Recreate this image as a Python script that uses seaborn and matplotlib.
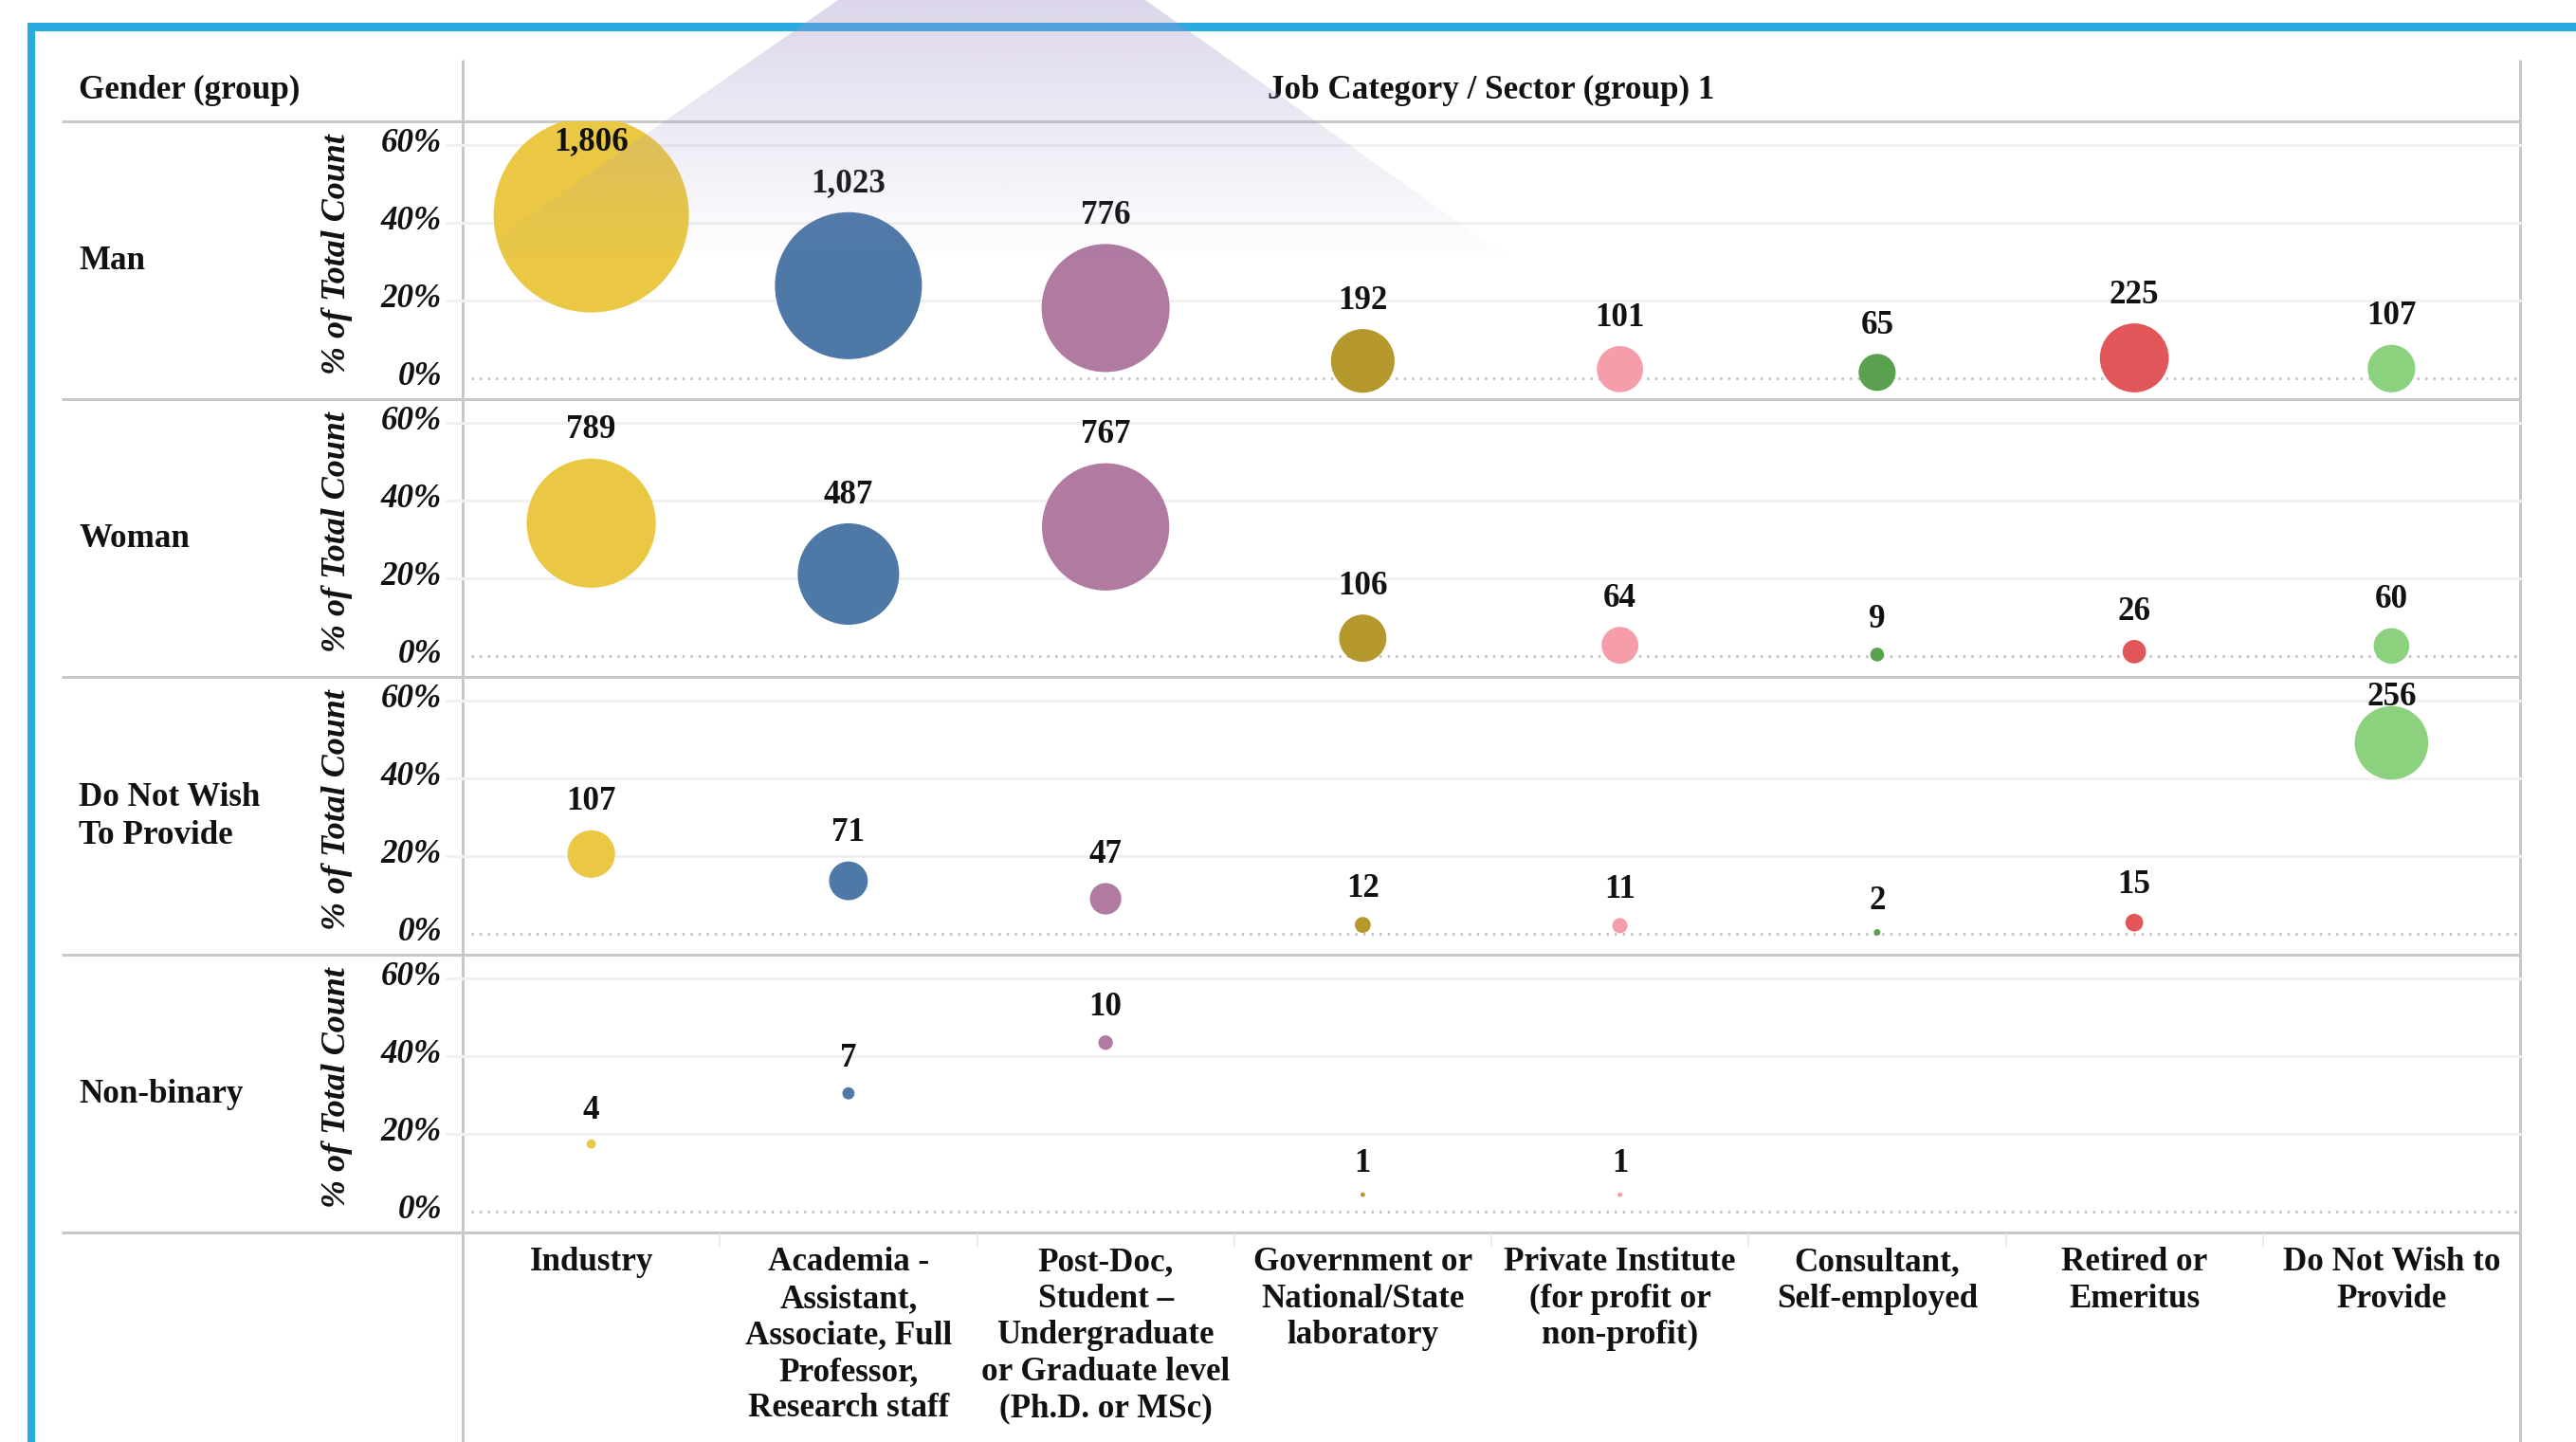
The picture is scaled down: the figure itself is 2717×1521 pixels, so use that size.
import numpy as np
import pandas as pd
import matplotlib
matplotlib.use("Agg")
import matplotlib.pyplot as plt
import matplotlib.transforms as mtransforms
import seaborn as sns
from matplotlib.patches import Polygon, Rectangle

# ---------------- data ----------------
categories = [
    "Industry",
    "Academia -\nAssistant,\nAssociate, Full\nProfessor,\nResearch staff",
    "Post-Doc,\nStudent \u2013\nUndergraduate\nor Graduate level\n(Ph.D. or MSc)",
    "Government or\nNational/State\nlaboratory",
    "Private Institute\n(for profit or\nnon-profit)",
    "Consultant,\nSelf-employed",
    "Retired or\nEmeritus",
    "Do Not Wish to\nProvide",
]
genders = ["Man", "Woman", "Do Not Wish\nTo Provide", "Non-binary"]

man_counts = [1806, 1023, 776, 192, 101, 65, 225, 107]
woman_counts = [789, 487, 767, 106, 64, 9, 26, 60]
dnw_counts = [107, 71, 47, 12, 11, 2, 15, 256]
nonbinary_counts = [4, 7, 10, 1, 1, None, None, None]

# % of total count (per gender row)
man_pct = [42.05, 23.82, 18.07, 4.47, 2.35, 1.51, 5.24, 2.49]
woman_pct = [34.19, 21.10, 33.23, 4.59, 2.77, 0.39, 1.13, 2.60]
dnw_pct = [20.54, 13.63, 9.02, 2.30, 2.11, 0.38, 2.88, 49.14]
nonbinary_pct = [17.39, 30.43, 43.48, 4.35, 4.35, None, None, None]

y_ticks = [0, 20, 40, 60]
y_tick_labels = ["0%", "20%", "40%", "60%"]

colors = ["#EAC844", "#4E79A7", "#B07AA1", "#B6992D",
          "#F59DA8", "#59A14F", "#E15759", "#8CD17D"]

rows = [
    (genders[0], man_counts, man_pct),
    (genders[1], woman_counts, woman_pct),
    (genders[2], dnw_counts, dnw_pct),
    (genders[3], nonbinary_counts, nonbinary_pct),
]

# ---------------- style ----------------
sns.set_style("white")
plt.rcParams["font.family"] = ["Liberation Serif", "DejaVu Serif"]

W, H = 2717, 1521
DPI = 100
PT = 72.0 / DPI
FS = 35 * PT
TXT = "#111111"

fig = plt.figure(figsize=(W / DPI, H / DPI), dpi=DPI)
fig.patch.set_facecolor("white")

# background frame / table lines in pixel coordinates
bg = fig.add_axes([0, 0, 1, 1], zorder=0)
bg.set_xlim(0, W)
bg.set_ylim(H, 0)
bg.axis("off")
line_c = "#C8C8C8"
lw = 3 * PT
LEFT, RIGHT = 488, 2658
bg.plot([LEFT, LEFT], [63, H], color=line_c, lw=lw, solid_capstyle="butt")
bg.plot([RIGHT, RIGHT], [63, H], color=line_c, lw=lw, solid_capstyle="butt")
for yb in [128, 421, 714, 1007, 1300]:
    bg.plot([65, RIGHT], [yb, yb], color=line_c, lw=lw, solid_capstyle="butt")
col_w = (RIGHT - LEFT) / 8
for k in range(1, 8):
    bg.plot([LEFT + col_w * k] * 2, [1302, 1315], color="#ECECEC", lw=2 * PT)
bg.add_patch(Rectangle((29, 24), W - 29, 9, color="#29ABE2", lw=0))
bg.add_patch(Rectangle((29, 24), 8, H - 24, color="#29ABE2", lw=0))

# headers
fig.text(83 / W, 1 - 95 / H, "Gender (group)", fontsize=FS, fontweight="bold",
         color=TXT, ha="left", va="center")
fig.text((LEFT + RIGHT) / 2 / W, 1 - 95 / H, "Job Category / Sector (group) 1",
         fontsize=FS, fontweight="bold", color=TXT, ha="center", va="center")

ROW_H = 293
ymin = -22 / 246 * 60
ymax = 60 + 25 / 246 * 60
upp = (ymax - ymin) / ROW_H
palette = dict(zip(categories, colors))
shift_up = mtransforms.ScaledTranslation(0, 1.5 / DPI, fig.dpi_scale_trans)

for i, (gname, counts, pcts) in enumerate(rows):
    top = 128 + ROW_H * i
    ax = fig.add_axes([LEFT / W, 1 - (top + ROW_H) / H, (RIGHT - LEFT) / W, ROW_H / H],
                      zorder=2)
    ax.patch.set_alpha(0)
    df = pd.DataFrame({
        "pos": list(range(len(categories))),
        "cat": categories,
        "count": counts,
        "pct": pcts,
    }).dropna()
    df["count"] = df["count"].astype(float)
    df["pct"] = df["pct"].astype(float)

    # gridlines
    for v in y_ticks[1:]:
        ax.plot([-17 / (RIGHT - LEFT), 1], [v, v], transform=ax.get_yaxis_transform(),
                color="#F1F1F1", lw=3 * PT, clip_on=False, zorder=0.5)
    ax.plot([9 / (RIGHT - LEFT), 1], [0, 0], transform=ax.get_yaxis_transform(),
            color="#C4C4C4", lw=3 * PT, linestyle=(0, (0.8, 2.05)),
            clip_on=False, zorder=0.6)

    sns.scatterplot(data=df, x="pos", y="pct", hue="cat", palette=palette,
                    size="count", sizes=(0, 22000), size_norm=(0, 1806),
                    legend=False, linewidth=0, edgecolor="none", alpha=1,
                    ax=ax, zorder=3)

    # value labels above bubbles
    for _, r in df.iterrows():
        r_px = 103 * np.sqrt(r["count"] / 1806.0)
        y_lab = r["pct"] + (r_px + 30) * upp
        y_lab = min(y_lab, ymax - 22 * upp)
        ax.text(r["pos"], y_lab, f"{int(r['count']):,}", fontsize=FS,
                fontweight="bold", color=TXT, ha="center", va="center", zorder=4)

    ax.set_xlim(-0.5, 7.5)
    ax.set_ylim(ymin, ymax)
    for s in ax.spines.values():
        s.set_visible(False)
    ax.set_yticks(y_ticks)
    ax.set_yticklabels([])
    ax.tick_params(axis="y", length=0)
    for v, t in zip(y_ticks, y_tick_labels):
        ax.text(-(LEFT - 466) / (RIGHT - LEFT), v, t,
                transform=ax.get_yaxis_transform() + shift_up,
                fontsize=FS, fontstyle="italic", fontweight="bold", color=TXT,
                ha="right", va="center", clip_on=False)
    ax.set_ylabel("")
    ax.set_xlabel("")
    if i == len(rows) - 1:
        ax.set_xticks(range(len(categories)))
        ax.set_xticklabels(categories, fontsize=FS, fontweight="bold",
                           color=TXT, linespacing=1.22)
        ax.tick_params(axis="x", length=0, pad=11)
    else:
        ax.set_xticks([])

    # row label & axis title
    yc = top + ROW_H / 2
    fig.text(83 / W, 1 - (yc + 1) / H, gname, fontsize=FS, fontweight="bold",
             color=TXT, ha="left", va="center", linespacing=1.32,
             multialignment="left")
    fig.text(356 / W, 1 - (yc - 6) / H, "% of Total Count", fontsize=FS * 1.03,
             fontstyle="italic", fontweight="bold", color=TXT, rotation=90,
             ha="center", va="center")

# translucent lavender beam overlay at the top (screenshot artefact)
ov = fig.add_axes([0, 0, 1, 1], zorder=10)
ov.set_xlim(0, W)
ov.set_ylim(H, 0)
ov.axis("off")
ov.patch.set_alpha(0)
ny = 300
grad = np.zeros((ny, 2, 4))
grad[..., 0] = 160 / 255
grad[..., 1] = 142 / 255
grad[..., 2] = 200 / 255
alpha = 0.36 * np.clip(1 - np.arange(ny) / 275.0, 0, 1)
grad[..., 3] = alpha[:, None]
im = ov.imshow(grad, extent=(460, 1630, ny, 0), aspect="auto",
               interpolation="bilinear", zorder=10)
poly = Polygon([(884, 0), (1208, 0), (1616, 290), (469, 290)], closed=True,
               transform=ov.transData, facecolor="none", edgecolor="none")
ov.add_patch(poly)
im.set_clip_path(poly)

fig.savefig("out.png", dpi=DPI, facecolor="white")
